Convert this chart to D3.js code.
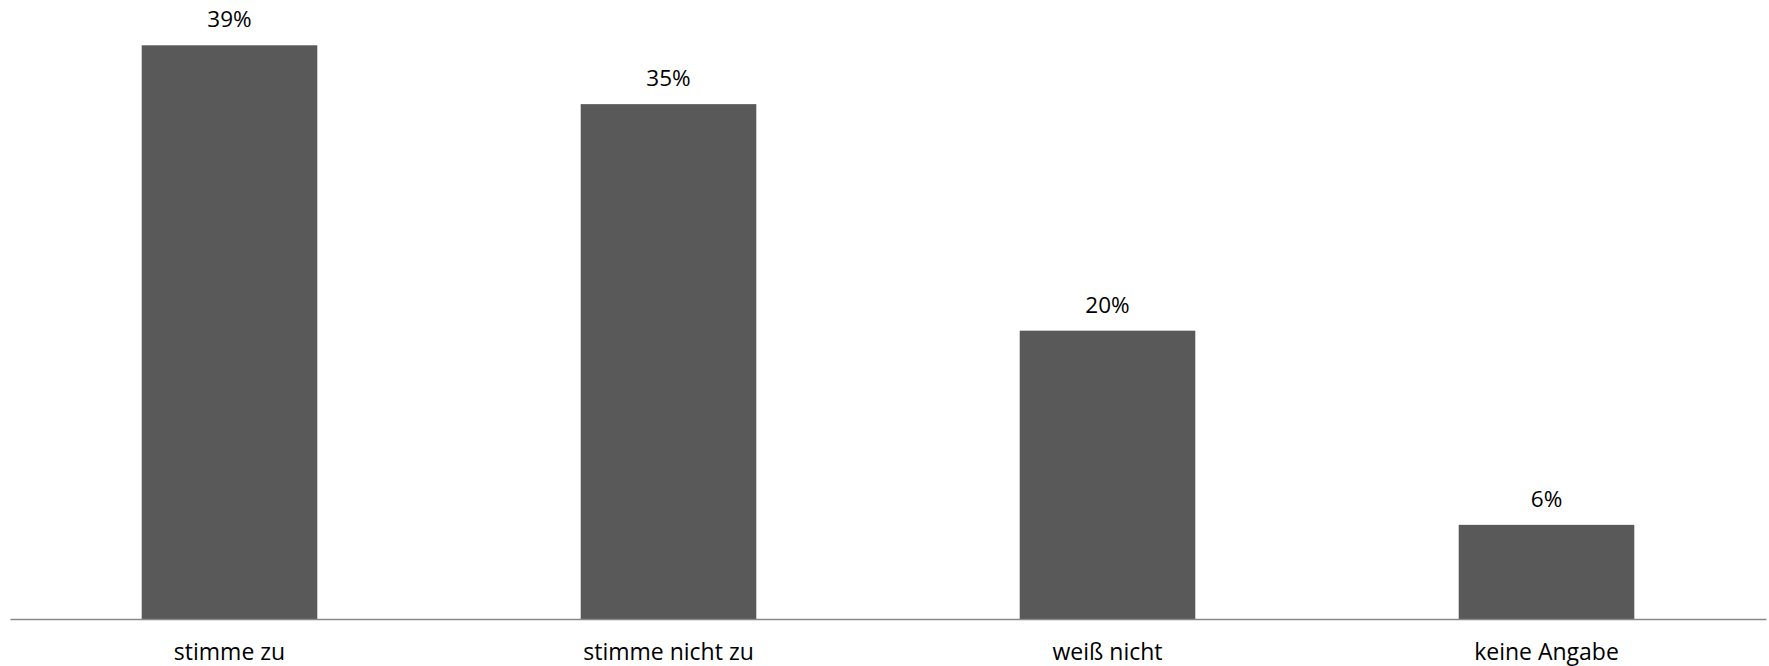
<!DOCTYPE html>
<html><head><meta charset="utf-8">
<script src="https://cdn.jsdelivr.net/npm/d3@7"></script>
<style>body{margin:0;background:#fff}svg{display:block}text{font-family:"Open Sans",sans-serif}</style>
</head><body>
<svg id="c" width="1769" height="666"></svg>
<script>
const categories = ["stimme zu", "stimme nicht zu", "weiß nicht", "keine Angabe"];
const values = [39.0, 35.0, 19.6, 6.4];

const svg = d3.select("#c");
const x = d3.scaleBand().domain(categories).range([10, 1766]).paddingInner(0.6).paddingOuter(0.3);
const y = d3.scaleLinear().domain([0, 39]).range([619, 45.3]);

svg.selectAll("rect.bar").data(values).join("rect")
  .attr("class", "bar")
  .attr("x", (d, i) => x(categories[i]))
  .attr("width", x.bandwidth())
  .attr("y", d => y(d))
  .attr("height", d => y(0) - y(d))
  .attr("fill", "#595959");

svg.selectAll("text.lbl").data(values).join("text")
  .attr("class", "lbl")
  .attr("x", (d, i) => x(categories[i]) + x.bandwidth() / 2)
  .attr("y", d => y(d) - 18)
  .attr("text-anchor", "middle")
  .attr("font-size", 22.5)
  .attr("fill", "#000")
  .text(d => Math.round(d) + "%");

const ax = svg.append("g").attr("transform", "translate(0,619)")
  .call(d3.axisBottom(x).tickSize(0).tickPadding(0));
ax.select(".domain").attr("stroke", "#898989").attr("stroke-width", 1.3);
ax.selectAll(".tick text").attr("font-size", 23).attr("fill", "#000")
  .attr("dy", null).attr("y", 41).style("font-family", '"Open Sans", sans-serif');
</script>
</body></html>
